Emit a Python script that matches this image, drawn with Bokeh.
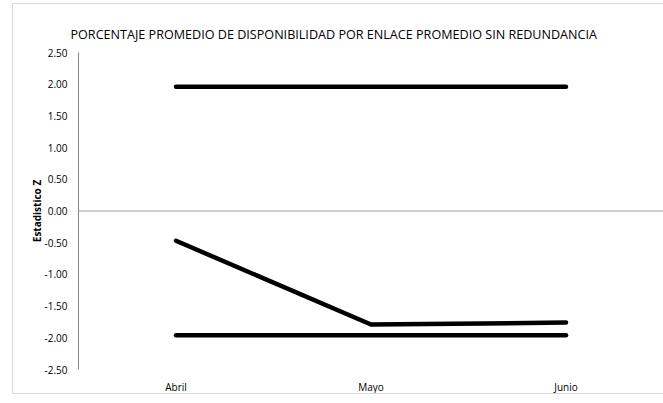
from bokeh.plotting import figure
from bokeh.models import Span, NumeralTickFormatter, FixedTicker, Range1d, InlineStyleSheet
from bokeh.embed import file_html
from bokeh.resources import INLINE

months = ["Abril", "Mayo", "Junio"]
z_values = [-0.47, -1.79, -1.76]
upper_limit = [1.96, 1.96, 1.96]
lower_limit = [-1.96, -1.96, -1.96]
y_ticks = [-2.5, -2.0, -1.5, -1.0, -0.5, 0.0, 0.5, 1.0, 1.5, 2.0, 2.5]
title_text = "PORCENTAJE PROMEDIO DE DISPONIBILIDAD POR ENLACE PROMEDIO SIN REDUNDANCIA"

FONT = "Open Sans"

border_css = InlineStyleSheet(css="""
:host::after {
  content: "";
  position: absolute;
  left: 12px; top: 3px; right: 0px; bottom: 2px;
  border: 1px solid #d9d9d9;
  border-right: none;
  pointer-events: none;
}
""")

p = figure(frame_width=585, frame_height=317, x_range=months, y_range=Range1d(-2.5, 2.5),
           output_backend="svg", toolbar_location=None,
           min_border_left=78, min_border_right=0, min_border_top=52, min_border_bottom=26,
           stylesheets=[border_css])
p.x_range.range_padding = 0

p.title.text = title_text
p.title.text_font = FONT
p.title.text_font_size = "12.6px"
p.title.text_font_style = "normal"
p.title.text_color = "#000000"
p.title.align = "left"
p.title.offset = -8
p.title.standoff = 19
p.title.padding = (0, 0, 5, 0)

p.outline_line_color = None
p.xgrid.visible = False
p.ygrid.visible = False

for vals in (upper_limit, lower_limit, z_values):
    p.line(months, vals, line_color="black", line_width=4.5, line_cap="round", line_join="round")

p.add_layout(Span(location=0, dimension="width", line_color="#bfbfbf", line_width=1.5))

ya = p.yaxis[0]
ya.ticker = FixedTicker(ticks=y_ticks)
ya.formatter = NumeralTickFormatter(format="0.00")
ya.major_tick_out = 0
ya.major_tick_in = 0
ya.minor_tick_out = 0
ya.minor_tick_in = 0
ya.axis_line_color = "#868686"
ya.major_label_text_font = FONT
ya.major_label_text_font_size = "10px"
ya.major_label_text_color = "#000000"
ya.major_label_standoff = 11
ya.axis_label = "Estadistico Z"
ya.axis_label_text_font = FONT
ya.axis_label_text_font_size = "10px"
ya.axis_label_text_font_style = "bold"
ya.axis_label_text_color = "#000000"
ya.axis_label_standoff = -2

xa = p.xaxis[0]
xa.axis_line_color = None
xa.major_tick_out = 0
xa.major_tick_in = 0
xa.major_label_text_font = FONT
xa.major_label_text_font_size = "10px"
xa.major_label_text_color = "#000000"
xa.major_label_standoff = 10

open("out.html", "w").write(file_html(p, INLINE))
